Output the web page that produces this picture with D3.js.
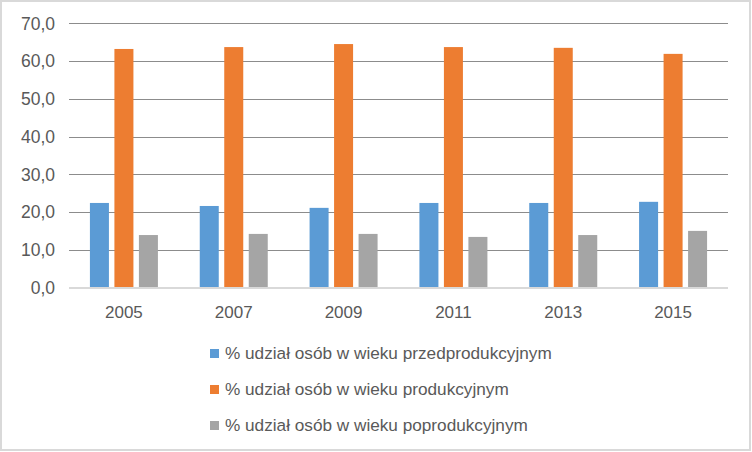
<!DOCTYPE html>
<html>
<head>
    <meta charset="utf-8">
    <title>Udział osób wg wieku</title>
    <style>
        body { margin: 0; background: #fff; }
        svg text { font-family: "Liberation Sans", Arial, sans-serif; fill: #595959; }
    </style>
</head>
<body>
    <script src="https://cdn.jsdelivr.net/npm/d3@7"></script>
    <script>
        // dane
        var years = ["2005", "2007", "2009", "2011", "2013", "2015"];
        var series = [
            "% udział osób w wieku przedprodukcyjnym",
            "% udział osób w wieku produkcyjnym",
            "% udział osób w wieku poprodukcyjnym"
        ];
        var przed = [22.4, 21.6, 21.1, 22.4, 22.4, 22.7];
        var prod = [63.2, 63.7, 64.5, 63.7, 63.5, 61.9];
        var po = [13.9, 14.2, 14.2, 13.4, 13.9, 15.0];
        var yTicks = [0, 10, 20, 30, 40, 50, 60, 70];
        var colors = ["#5b9bd5", "#ed7d31", "#a5a5a5"];

        var values = [przed, prod, po];
        var width = 752, height = 452;

        var svg = d3.select("body").append("svg")
            .attr("width", width)
            .attr("height", height);

        // ramka wykresu
        svg.append("rect")
            .attr("x", 1).attr("y", 1)
            .attr("width", 749).attr("height", 449)
            .attr("fill", "#fff")
            .attr("stroke", "#d9d9d9")
            .attr("stroke-width", 2);

        var x0 = d3.scaleBand()
            .domain(years)
            .range([69, 728])
            .padding(0);

        var x1 = d3.scaleBand()
            .domain(d3.range(series.length))
            .range([-34, 34])
            .paddingInner(0.224);

        var y = d3.scaleLinear()
            .domain([0, 70])
            .range([287.5, 23.3]);

        // linie siatki
        svg.append("g")
            .selectAll("line")
            .data(yTicks.filter(function(d) { return d > 0; }))
            .enter().append("line")
            .attr("x1", 69).attr("x2", 728)
            .attr("y1", function(d) { return Math.round(y(d)) + 0.5; })
            .attr("y2", function(d) { return Math.round(y(d)) + 0.5; })
            .attr("stroke", "#8c8c8c")
            .attr("stroke-width", 1);

        // etykiety osi Y
        svg.append("g")
            .selectAll("text")
            .data(yTicks)
            .enter().append("text")
            .attr("x", 55)
            .attr("y", function(d) { return y(d); })
            .attr("dy", "0.36em")
            .attr("text-anchor", "end")
            .style("font-size", "17.5px")
            .text(function(d) { return d3.format(".1f")(d).replace(".", ","); });

        // słupki
        var groups = svg.append("g")
            .selectAll("g")
            .data(years)
            .enter().append("g")
            .attr("transform", function(d) { return "translate(" + (x0(d) + x0.bandwidth() / 2) + ",0)"; });

        groups.selectAll("rect")
            .data(function(d, i) { return values.map(function(v, s) { return {s: s, v: v[i]}; }); })
            .enter().append("rect")
            .attr("x", function(d) { return x1(d.s); })
            .attr("width", x1.bandwidth())
            .attr("y", function(d) { return y(d.v); })
            .attr("height", function(d) { return y(0) - y(d.v); })
            .attr("fill", function(d) { return colors[d.s]; });

        // oś X
        svg.append("line")
            .attr("x1", 69).attr("x2", 728)
            .attr("y1", 288).attr("y2", 288)
            .attr("stroke", "#d9d9d9")
            .attr("stroke-width", 2);

        svg.append("g")
            .selectAll("text")
            .data(years)
            .enter().append("text")
            .attr("x", function(d) { return x0(d) + x0.bandwidth() / 2; })
            .attr("y", 318)
            .attr("text-anchor", "middle")
            .style("font-size", "17px")
            .text(function(d) { return d; });

        // legenda
        var legend = svg.append("g")
            .selectAll("g")
            .data(series)
            .enter().append("g")
            .attr("transform", function(d, i) { return "translate(210," + (353 + i * 36) + ")"; });

        legend.append("rect")
            .attr("x", 0).attr("y", -4)
            .attr("width", 9).attr("height", 9)
            .attr("fill", function(d, i) { return colors[i]; });

        legend.append("text")
            .attr("x", 15)
            .attr("dy", "0.36em")
            .style("font-size", "17.2px")
            .text(function(d) { return d; });
    </script>
</body>
</html>
